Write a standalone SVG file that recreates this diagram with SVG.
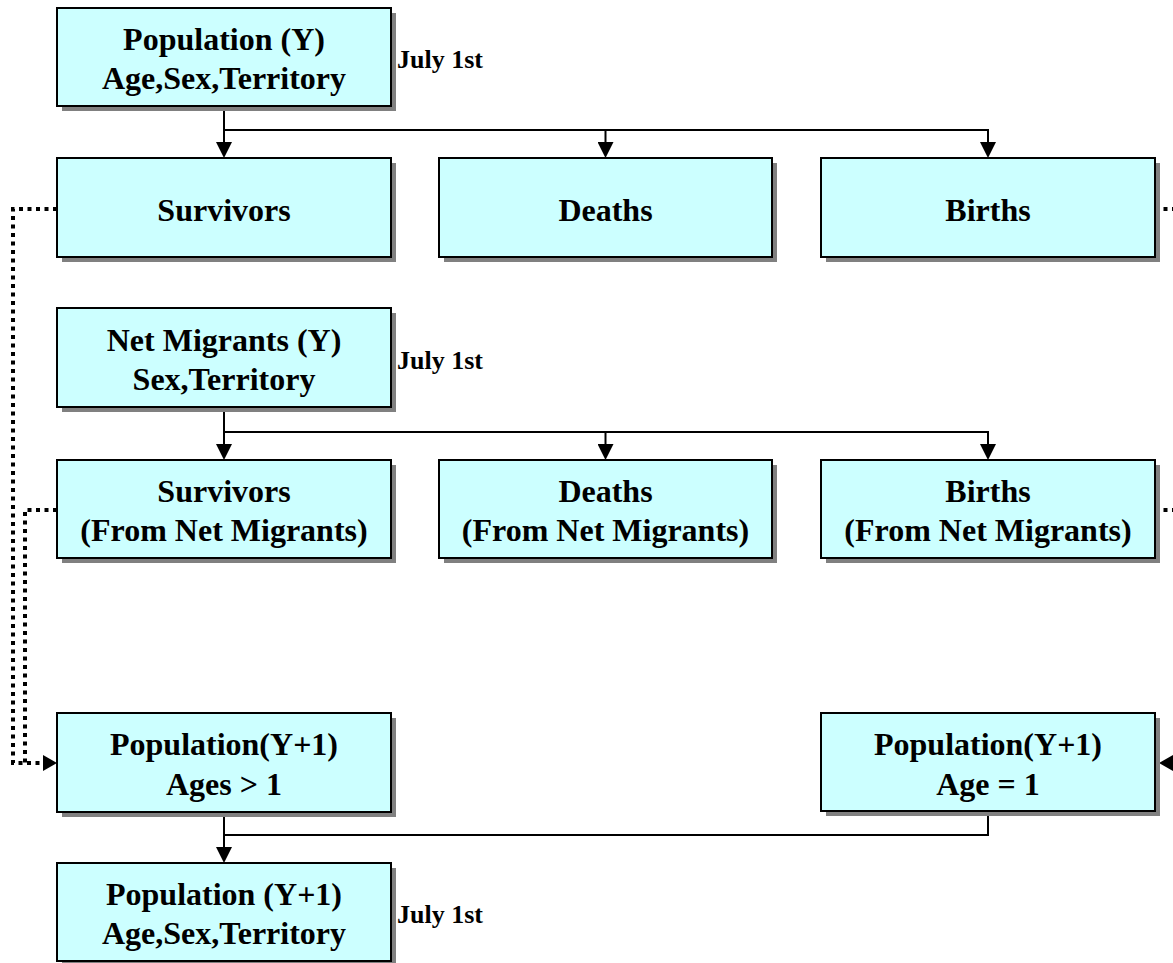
<svg xmlns="http://www.w3.org/2000/svg" width="1173" height="963" viewBox="0 0 1173 963">
<style>
.b{fill:#CCFFFF;stroke:#000;stroke-width:2}
.sh{fill:#808080}
.t{font-family:"Liberation Serif","Times New Roman",serif;font-weight:bold;font-size:32px;text-anchor:middle;fill:#000}
.lbl{font-family:"Liberation Serif","Times New Roman",serif;font-weight:bold;font-size:26px;text-anchor:start;fill:#000}
.c{fill:none;stroke:#000;stroke-width:2}
.d{fill:none;stroke:#000;stroke-width:4;stroke-dasharray:4 4.5}
</style>
<defs>
<marker id="ah" viewBox="0 0 16 16" refX="0" refY="8" markerWidth="16" markerHeight="16" markerUnits="userSpaceOnUse" orient="auto">
<path d="M0,0 L16,8 L0,16 z" fill="#000"/>
</marker>
<marker id="ahs" viewBox="0 0 14 16" refX="0" refY="8" markerWidth="14" markerHeight="16" markerUnits="userSpaceOnUse" orient="auto">
<path d="M0,0 L14,8 L0,16 z" fill="#000"/>
</marker>
</defs>
<rect width="1173" height="963" fill="#fff"/>

<g id="connectors">
<path class="c" d="M224,106 V142" marker-end="url(#ah)"/>
<path class="c" d="M224,130 H988 V142" marker-end="url(#ah)"/>
<path class="c" d="M605.5,130 V142" marker-end="url(#ah)"/>
<path class="c" d="M224,407 V444" marker-end="url(#ah)"/>
<path class="c" d="M224,432 H988 V444" marker-end="url(#ah)"/>
<path class="c" d="M605.5,432 V444" marker-end="url(#ah)"/>
<path class="c" d="M224,812 V847" marker-end="url(#ah)"/>
<path class="c" d="M224,835 H988 V811"/>
<path class="d" d="M57,209 H13 V763 H43" marker-end="url(#ahs)"/>
<path class="d" d="M57,510 H25 V763"/>
<path class="d" d="M1155,209 H1175"/>
<path class="d" d="M1155,510 H1175"/>
<path class="d" d="M1190,763 H1173" marker-end="url(#ahs)"/>
</g>

<g id="pop_y">
<rect class="sh" x="62" y="13" width="334" height="98"/>
<rect class="b" x="57" y="8" width="334" height="98"/>
<text class="t" x="224" y="50">Population (Y)</text>
<text class="t" x="224" y="89">Age,Sex,Territory</text>
<text class="lbl" x="397" y="68">July 1st</text>
</g>

<g id="survivors">
<rect class="sh" x="62" y="163" width="334" height="99"/>
<rect class="b" x="57" y="158" width="334" height="99"/>
<text class="t" x="224" y="221">Survivors</text>
</g>

<g id="deaths">
<rect class="sh" x="444" y="163" width="333" height="99"/>
<rect class="b" x="439" y="158" width="333" height="99"/>
<text class="t" x="605.5" y="221">Deaths</text>
</g>

<g id="births">
<rect class="sh" x="826" y="163" width="334" height="99"/>
<rect class="b" x="821" y="158" width="334" height="99"/>
<text class="t" x="988" y="221">Births</text>
</g>

<g id="net_migrants">
<rect class="sh" x="62" y="313" width="334" height="99"/>
<rect class="b" x="57" y="308" width="334" height="99"/>
<text class="t" x="224" y="351">Net Migrants (Y)</text>
<text class="t" x="224" y="390">Sex,Territory</text>
<text class="lbl" x="397" y="369">July 1st</text>
</g>

<g id="survivors_nm">
<rect class="sh" x="62" y="465" width="334" height="98"/>
<rect class="b" x="57" y="460" width="334" height="98"/>
<text class="t" x="224" y="502">Survivors</text>
<text class="t" x="224" y="541">(From Net Migrants)</text>
</g>

<g id="deaths_nm">
<rect class="sh" x="444" y="465" width="333" height="98"/>
<rect class="b" x="439" y="460" width="333" height="98"/>
<text class="t" x="605.5" y="502">Deaths</text>
<text class="t" x="605.5" y="541">(From Net Migrants)</text>
</g>

<g id="births_nm">
<rect class="sh" x="826" y="465" width="334" height="98"/>
<rect class="b" x="821" y="460" width="334" height="98"/>
<text class="t" x="988" y="502">Births</text>
<text class="t" x="988" y="541">(From Net Migrants)</text>
</g>

<g id="pop_y1_ages">
<rect class="sh" x="62" y="718" width="334" height="99"/>
<rect class="b" x="57" y="713" width="334" height="99"/>
<text class="t" x="224" y="755">Population(Y+1)</text>
<text class="t" x="224" y="795">Ages &gt; 1</text>
</g>

<g id="pop_y1_age1">
<rect class="sh" x="826" y="718" width="334" height="98"/>
<rect class="b" x="821" y="713" width="334" height="98"/>
<text class="t" x="988" y="755">Population(Y+1)</text>
<text class="t" x="988" y="795">Age = 1</text>
</g>

<g id="pop_y1_final">
<rect class="sh" x="62" y="868" width="334" height="98"/>
<rect class="b" x="57" y="863" width="334" height="98"/>
<text class="t" x="224" y="905">Population (Y+1)</text>
<text class="t" x="224" y="944">Age,Sex,Territory</text>
<text class="lbl" x="397" y="923">July 1st</text>
</g>
</svg>
